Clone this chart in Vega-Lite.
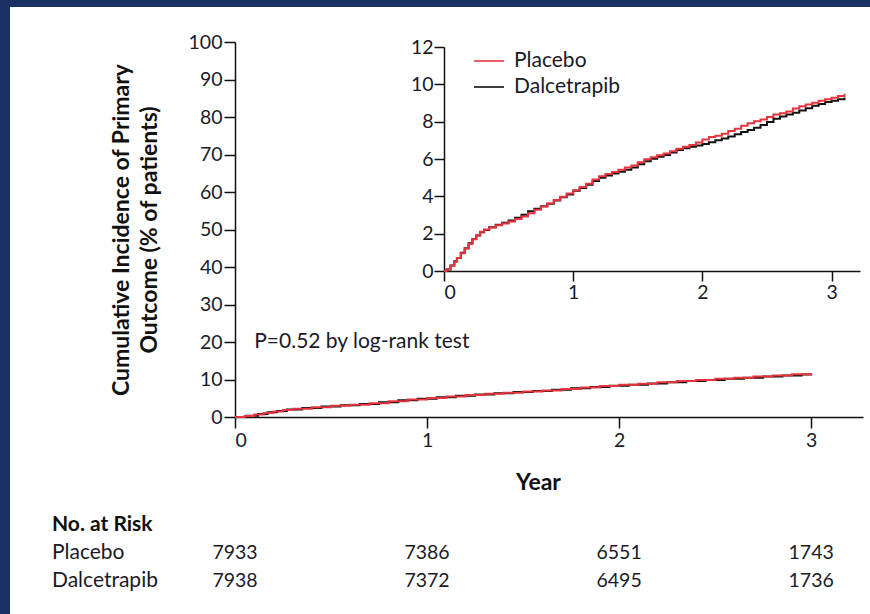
{
  "$schema": "https://vega.github.io/schema/vega-lite/v6.json",
  "width": 860,
  "height": 607,
  "autosize": {"type": "none"},
  "padding": {"left": 10, "top": 7, "right": 0, "bottom": 0},
  "background": "#1c3163",
  "config": {
    "view": {"fill": "white", "stroke": null},
    "font": "Lato",
    "axis": {
      "grid": false,
      "domainColor": "#111111",
      "domainWidth": 1.5,
      "tickColor": "#111111",
      "tickWidth": 1.5,
      "tickSize": 10,
      "labelFont": "Lato",
      "labelFontSize": 19.5,
      "labelColor": "#1a1a28",
      "labelPadding": 2,
      "titleFont": "Lato",
      "titleColor": "#111111"
    },
    "text": {"font": "Lato", "color": "#1a1a28"}
  },
  "datasets": {
    "main": [
      {"group": "Placebo", "year": 0, "pct": 0},
      {"group": "Placebo", "year": 0.05, "pct": 0.3},
      {"group": "Placebo", "year": 0.1, "pct": 0.7},
      {"group": "Placebo", "year": 0.15, "pct": 1.1},
      {"group": "Placebo", "year": 0.2, "pct": 1.5},
      {"group": "Placebo", "year": 0.25, "pct": 1.9},
      {"group": "Placebo", "year": 0.3, "pct": 2.2},
      {"group": "Placebo", "year": 0.4, "pct": 2.6},
      {"group": "Placebo", "year": 0.5, "pct": 3.0},
      {"group": "Placebo", "year": 0.6, "pct": 3.3},
      {"group": "Placebo", "year": 0.7, "pct": 3.7},
      {"group": "Placebo", "year": 0.8, "pct": 4.2},
      {"group": "Placebo", "year": 0.9, "pct": 4.7},
      {"group": "Placebo", "year": 1.0, "pct": 5.1},
      {"group": "Placebo", "year": 1.1, "pct": 5.5},
      {"group": "Placebo", "year": 1.2, "pct": 5.9},
      {"group": "Placebo", "year": 1.3, "pct": 6.2},
      {"group": "Placebo", "year": 1.4, "pct": 6.5},
      {"group": "Placebo", "year": 1.5, "pct": 6.8},
      {"group": "Placebo", "year": 1.6, "pct": 7.1},
      {"group": "Placebo", "year": 1.7, "pct": 7.5},
      {"group": "Placebo", "year": 1.8, "pct": 7.9},
      {"group": "Placebo", "year": 1.9, "pct": 8.3},
      {"group": "Placebo", "year": 2.0, "pct": 8.6},
      {"group": "Placebo", "year": 2.1, "pct": 8.9},
      {"group": "Placebo", "year": 2.2, "pct": 9.3},
      {"group": "Placebo", "year": 2.3, "pct": 9.6},
      {"group": "Placebo", "year": 2.4, "pct": 9.9},
      {"group": "Placebo", "year": 2.5, "pct": 10.2},
      {"group": "Placebo", "year": 2.6, "pct": 10.5},
      {"group": "Placebo", "year": 2.7, "pct": 10.8},
      {"group": "Placebo", "year": 2.8, "pct": 11.1},
      {"group": "Placebo", "year": 2.9, "pct": 11.4},
      {"group": "Placebo", "year": 3.0, "pct": 11.7},
      {"group": "Dalcetrapib", "year": 0, "pct": 0},
      {"group": "Dalcetrapib", "year": 0.06, "pct": 0.35},
      {"group": "Dalcetrapib", "year": 0.12, "pct": 0.8},
      {"group": "Dalcetrapib", "year": 0.17, "pct": 1.25},
      {"group": "Dalcetrapib", "year": 0.22, "pct": 1.6},
      {"group": "Dalcetrapib", "year": 0.27, "pct": 2.0},
      {"group": "Dalcetrapib", "year": 0.35, "pct": 2.4},
      {"group": "Dalcetrapib", "year": 0.45, "pct": 2.8},
      {"group": "Dalcetrapib", "year": 0.55, "pct": 3.15},
      {"group": "Dalcetrapib", "year": 0.65, "pct": 3.5},
      {"group": "Dalcetrapib", "year": 0.75, "pct": 3.95},
      {"group": "Dalcetrapib", "year": 0.85, "pct": 4.45},
      {"group": "Dalcetrapib", "year": 0.95, "pct": 4.9},
      {"group": "Dalcetrapib", "year": 1.05, "pct": 5.3},
      {"group": "Dalcetrapib", "year": 1.15, "pct": 5.7},
      {"group": "Dalcetrapib", "year": 1.25, "pct": 6.0},
      {"group": "Dalcetrapib", "year": 1.35, "pct": 6.35},
      {"group": "Dalcetrapib", "year": 1.45, "pct": 6.65},
      {"group": "Dalcetrapib", "year": 1.55, "pct": 6.95},
      {"group": "Dalcetrapib", "year": 1.65, "pct": 7.3},
      {"group": "Dalcetrapib", "year": 1.75, "pct": 7.65},
      {"group": "Dalcetrapib", "year": 1.85, "pct": 8.0},
      {"group": "Dalcetrapib", "year": 1.95, "pct": 8.35},
      {"group": "Dalcetrapib", "year": 2.05, "pct": 8.6},
      {"group": "Dalcetrapib", "year": 2.15, "pct": 8.95},
      {"group": "Dalcetrapib", "year": 2.25, "pct": 9.3},
      {"group": "Dalcetrapib", "year": 2.35, "pct": 9.6},
      {"group": "Dalcetrapib", "year": 2.45, "pct": 9.9},
      {"group": "Dalcetrapib", "year": 2.55, "pct": 10.2},
      {"group": "Dalcetrapib", "year": 2.65, "pct": 10.5},
      {"group": "Dalcetrapib", "year": 2.75, "pct": 10.8},
      {"group": "Dalcetrapib", "year": 2.85, "pct": 11.1},
      {"group": "Dalcetrapib", "year": 2.95, "pct": 11.35},
      {"group": "Dalcetrapib", "year": 3.0, "pct": 11.5}
    ],
    "inset": [
      {"group": "Placebo", "year": 0, "pct": 0},
      {"group": "Placebo", "year": 0.02, "pct": 0.1},
      {"group": "Placebo", "year": 0.05, "pct": 0.3},
      {"group": "Placebo", "year": 0.08, "pct": 0.5},
      {"group": "Placebo", "year": 0.1, "pct": 0.7},
      {"group": "Placebo", "year": 0.13, "pct": 0.95},
      {"group": "Placebo", "year": 0.16, "pct": 1.2},
      {"group": "Placebo", "year": 0.19, "pct": 1.45},
      {"group": "Placebo", "year": 0.22, "pct": 1.7},
      {"group": "Placebo", "year": 0.25, "pct": 1.9},
      {"group": "Placebo", "year": 0.28, "pct": 2.1},
      {"group": "Placebo", "year": 0.31, "pct": 2.22},
      {"group": "Placebo", "year": 0.35, "pct": 2.33},
      {"group": "Placebo", "year": 0.4, "pct": 2.45},
      {"group": "Placebo", "year": 0.45, "pct": 2.55},
      {"group": "Placebo", "year": 0.5, "pct": 2.65},
      {"group": "Placebo", "year": 0.55, "pct": 2.78},
      {"group": "Placebo", "year": 0.6, "pct": 2.92},
      {"group": "Placebo", "year": 0.65, "pct": 3.1},
      {"group": "Placebo", "year": 0.7, "pct": 3.28},
      {"group": "Placebo", "year": 0.75, "pct": 3.45},
      {"group": "Placebo", "year": 0.8, "pct": 3.62},
      {"group": "Placebo", "year": 0.85, "pct": 3.8},
      {"group": "Placebo", "year": 0.9, "pct": 3.98},
      {"group": "Placebo", "year": 0.95, "pct": 4.15},
      {"group": "Placebo", "year": 1.0, "pct": 4.33},
      {"group": "Placebo", "year": 1.05, "pct": 4.5},
      {"group": "Placebo", "year": 1.1, "pct": 4.68},
      {"group": "Placebo", "year": 1.15, "pct": 4.9},
      {"group": "Placebo", "year": 1.2, "pct": 5.08},
      {"group": "Placebo", "year": 1.25, "pct": 5.2},
      {"group": "Placebo", "year": 1.3, "pct": 5.3},
      {"group": "Placebo", "year": 1.35, "pct": 5.42},
      {"group": "Placebo", "year": 1.4, "pct": 5.55},
      {"group": "Placebo", "year": 1.45, "pct": 5.65},
      {"group": "Placebo", "year": 1.5, "pct": 5.82},
      {"group": "Placebo", "year": 1.55, "pct": 5.98},
      {"group": "Placebo", "year": 1.6, "pct": 6.1},
      {"group": "Placebo", "year": 1.65, "pct": 6.2},
      {"group": "Placebo", "year": 1.7, "pct": 6.3},
      {"group": "Placebo", "year": 1.75, "pct": 6.42},
      {"group": "Placebo", "year": 1.8, "pct": 6.55},
      {"group": "Placebo", "year": 1.85, "pct": 6.65},
      {"group": "Placebo", "year": 1.9, "pct": 6.75},
      {"group": "Placebo", "year": 1.95, "pct": 6.88},
      {"group": "Placebo", "year": 2.0, "pct": 7.05},
      {"group": "Placebo", "year": 2.05, "pct": 7.18},
      {"group": "Placebo", "year": 2.1, "pct": 7.25},
      {"group": "Placebo", "year": 2.15, "pct": 7.35},
      {"group": "Placebo", "year": 2.2, "pct": 7.5},
      {"group": "Placebo", "year": 2.25, "pct": 7.62},
      {"group": "Placebo", "year": 2.3, "pct": 7.78},
      {"group": "Placebo", "year": 2.35, "pct": 7.92},
      {"group": "Placebo", "year": 2.4, "pct": 8.02},
      {"group": "Placebo", "year": 2.45, "pct": 8.12},
      {"group": "Placebo", "year": 2.5, "pct": 8.25},
      {"group": "Placebo", "year": 2.55, "pct": 8.38},
      {"group": "Placebo", "year": 2.6, "pct": 8.45},
      {"group": "Placebo", "year": 2.65, "pct": 8.55},
      {"group": "Placebo", "year": 2.7, "pct": 8.7},
      {"group": "Placebo", "year": 2.75, "pct": 8.82},
      {"group": "Placebo", "year": 2.8, "pct": 8.92},
      {"group": "Placebo", "year": 2.85, "pct": 9.02},
      {"group": "Placebo", "year": 2.9, "pct": 9.12},
      {"group": "Placebo", "year": 2.95, "pct": 9.2},
      {"group": "Placebo", "year": 3.0, "pct": 9.28},
      {"group": "Placebo", "year": 3.05, "pct": 9.38},
      {"group": "Placebo", "year": 3.1, "pct": 9.5},
      {"group": "Dalcetrapib", "year": 0, "pct": 0},
      {"group": "Dalcetrapib", "year": 0.02, "pct": 0.08},
      {"group": "Dalcetrapib", "year": 0.05, "pct": 0.3},
      {"group": "Dalcetrapib", "year": 0.08, "pct": 0.52},
      {"group": "Dalcetrapib", "year": 0.1, "pct": 0.7},
      {"group": "Dalcetrapib", "year": 0.13, "pct": 0.98},
      {"group": "Dalcetrapib", "year": 0.16, "pct": 1.22},
      {"group": "Dalcetrapib", "year": 0.19, "pct": 1.48},
      {"group": "Dalcetrapib", "year": 0.22, "pct": 1.72},
      {"group": "Dalcetrapib", "year": 0.25, "pct": 1.9},
      {"group": "Dalcetrapib", "year": 0.28, "pct": 2.08},
      {"group": "Dalcetrapib", "year": 0.31, "pct": 2.2},
      {"group": "Dalcetrapib", "year": 0.35, "pct": 2.35},
      {"group": "Dalcetrapib", "year": 0.4, "pct": 2.48},
      {"group": "Dalcetrapib", "year": 0.45, "pct": 2.58},
      {"group": "Dalcetrapib", "year": 0.5, "pct": 2.7},
      {"group": "Dalcetrapib", "year": 0.55, "pct": 2.85},
      {"group": "Dalcetrapib", "year": 0.6, "pct": 3.02},
      {"group": "Dalcetrapib", "year": 0.65, "pct": 3.2},
      {"group": "Dalcetrapib", "year": 0.7, "pct": 3.33},
      {"group": "Dalcetrapib", "year": 0.75, "pct": 3.47},
      {"group": "Dalcetrapib", "year": 0.8, "pct": 3.6},
      {"group": "Dalcetrapib", "year": 0.85, "pct": 3.78},
      {"group": "Dalcetrapib", "year": 0.9, "pct": 3.95},
      {"group": "Dalcetrapib", "year": 0.95, "pct": 4.1},
      {"group": "Dalcetrapib", "year": 1.0, "pct": 4.3},
      {"group": "Dalcetrapib", "year": 1.05, "pct": 4.45},
      {"group": "Dalcetrapib", "year": 1.1, "pct": 4.62},
      {"group": "Dalcetrapib", "year": 1.15, "pct": 4.82},
      {"group": "Dalcetrapib", "year": 1.2, "pct": 5.0},
      {"group": "Dalcetrapib", "year": 1.25, "pct": 5.12},
      {"group": "Dalcetrapib", "year": 1.3, "pct": 5.22},
      {"group": "Dalcetrapib", "year": 1.35, "pct": 5.32},
      {"group": "Dalcetrapib", "year": 1.4, "pct": 5.42},
      {"group": "Dalcetrapib", "year": 1.45, "pct": 5.55},
      {"group": "Dalcetrapib", "year": 1.5, "pct": 5.72},
      {"group": "Dalcetrapib", "year": 1.55, "pct": 5.88},
      {"group": "Dalcetrapib", "year": 1.6, "pct": 6.02},
      {"group": "Dalcetrapib", "year": 1.65, "pct": 6.12},
      {"group": "Dalcetrapib", "year": 1.7, "pct": 6.22},
      {"group": "Dalcetrapib", "year": 1.75, "pct": 6.35},
      {"group": "Dalcetrapib", "year": 1.8, "pct": 6.48},
      {"group": "Dalcetrapib", "year": 1.85, "pct": 6.58},
      {"group": "Dalcetrapib", "year": 1.9, "pct": 6.65},
      {"group": "Dalcetrapib", "year": 1.95, "pct": 6.72},
      {"group": "Dalcetrapib", "year": 2.0, "pct": 6.8},
      {"group": "Dalcetrapib", "year": 2.05, "pct": 6.9},
      {"group": "Dalcetrapib", "year": 2.1, "pct": 7.0},
      {"group": "Dalcetrapib", "year": 2.15, "pct": 7.1},
      {"group": "Dalcetrapib", "year": 2.2, "pct": 7.2},
      {"group": "Dalcetrapib", "year": 2.25, "pct": 7.32},
      {"group": "Dalcetrapib", "year": 2.3, "pct": 7.45},
      {"group": "Dalcetrapib", "year": 2.35, "pct": 7.55},
      {"group": "Dalcetrapib", "year": 2.4, "pct": 7.68},
      {"group": "Dalcetrapib", "year": 2.45, "pct": 7.82},
      {"group": "Dalcetrapib", "year": 2.5, "pct": 7.98},
      {"group": "Dalcetrapib", "year": 2.55, "pct": 8.15},
      {"group": "Dalcetrapib", "year": 2.6, "pct": 8.28},
      {"group": "Dalcetrapib", "year": 2.65, "pct": 8.38},
      {"group": "Dalcetrapib", "year": 2.7, "pct": 8.48},
      {"group": "Dalcetrapib", "year": 2.75, "pct": 8.6},
      {"group": "Dalcetrapib", "year": 2.8, "pct": 8.72},
      {"group": "Dalcetrapib", "year": 2.85, "pct": 8.85},
      {"group": "Dalcetrapib", "year": 2.9, "pct": 8.95},
      {"group": "Dalcetrapib", "year": 2.95, "pct": 9.05},
      {"group": "Dalcetrapib", "year": 3.0, "pct": 9.12},
      {"group": "Dalcetrapib", "year": 3.05, "pct": 9.2},
      {"group": "Dalcetrapib", "year": 3.1, "pct": 9.3}
    ],
    "risk": [
      {"row": "Placebo", "year": 0, "n": "7933"},
      {"row": "Placebo", "year": 1, "n": "7386"},
      {"row": "Placebo", "year": 2, "n": "6551"},
      {"row": "Placebo", "year": 3, "n": "1743"},
      {"row": "Dalcetrapib", "year": 0, "n": "7938"},
      {"row": "Dalcetrapib", "year": 1, "n": "7372"},
      {"row": "Dalcetrapib", "year": 2, "n": "6495"},
      {"row": "Dalcetrapib", "year": 3, "n": "1736"}
    ],
    "rows": [
      {"row": "No. at Risk"},
      {"row": "Placebo"},
      {"row": "Dalcetrapib"}
    ],
    "note": [
      {"label": "P=0.52 by log-rank test"}
    ]
  },
  "resolve": {"scale": {"x": "independent", "y": "independent"}},
  "layer": [
    {
      "data": {"name": "main"},
      "encoding": {
        "x": {
          "field": "year", "type": "quantitative",
          "scale": {"domain": [0, 3.27], "range": [225, 853], "nice": false, "zero": false},
          "axis": {
            "orient": "bottom", "offset": -197, "values": [0, 1, 2, 3],
            "tickSize": 11, "labelPadding": 3,
            "title": "Year", "titleFontSize": 23, "titleFontWeight": "bold",
            "titleX": 528, "titlePadding": 22
          }
        },
        "y": {
          "field": "pct", "type": "quantitative",
          "scale": {"domain": [0, 100], "range": [410, 35], "nice": false, "zero": false},
          "axis": {
            "orient": "left", "offset": -225, "tickSize": 11,
            "values": [0, 10, 20, 30, 40, 50, 60, 70, 80, 90, 100],
            "title": ["Cumulative Incidence of Primary", "Outcome (% of patients)"],
            "titleFontSize": 23, "titleFontWeight": "bold", "titleLineHeight": 28,
            "titlePadding": 27
          }
        },
        "color": {
          "field": "group", "type": "nominal",
          "scale": {"domain": ["Placebo", "Dalcetrapib"], "range": ["#e8343f", "#111111"]},
          "legend": {
            "orient": "none", "legendX": 463, "legendY": 38,
            "title": null, "symbolType": "stroke", "symbolSize": 900,
            "symbolStrokeWidth": 1.6, "labelFontSize": 21, "labelFont": "Lato",
            "labelColor": "#1a1a28", "labelOffset": 9, "rowPadding": -6
          }
        }
      },
      "layer": [
        {
          "transform": [{"filter": "datum.group === 'Dalcetrapib'"}],
          "mark": {"type": "line", "interpolate": "step-after", "strokeWidth": 2}
        },
        {
          "transform": [{"filter": "datum.group === 'Placebo'"}],
          "mark": {"type": "line", "interpolate": "step-after", "strokeWidth": 2}
        }
      ]
    },
    {
      "data": {"name": "note"},
      "mark": {"type": "text", "align": "left", "baseline": "middle", "fontSize": 21},
      "encoding": {
        "x": {"datum": 0.1, "type": "quantitative",
              "scale": {"domain": [0, 3.27], "range": [225, 853], "nice": false, "zero": false},
              "axis": null},
        "y": {"datum": 20, "type": "quantitative",
              "scale": {"domain": [0, 100], "range": [410, 35], "nice": false, "zero": false},
              "axis": null},
        "text": {"field": "label"},
        "color": {"value": "#1a1a28"}
      }
    },
    {
      "data": {"name": "inset"},
      "encoding": {
        "x": {
          "field": "year", "type": "quantitative",
          "scale": {"domain": [0, 3.22], "range": [434, 850], "nice": false, "zero": false},
          "axis": {
            "orient": "bottom", "offset": -343, "values": [0, 1, 2, 3],
            "title": null, "labelPadding": 2
          }
        },
        "y": {
          "field": "pct", "type": "quantitative",
          "scale": {"domain": [0, 12], "range": [264, 40], "nice": false, "zero": false},
          "axis": {
            "orient": "left", "offset": -434, "values": [0, 2, 4, 6, 8, 10, 12],
            "title": null, "labelPadding": 1
          }
        },
        "color": {"field": "group", "type": "nominal"}
      },
      "layer": [
        {
          "transform": [{"filter": "datum.group === 'Dalcetrapib'"}],
          "mark": {"type": "line", "interpolate": "step-after", "strokeWidth": 2}
        },
        {
          "transform": [{"filter": "datum.group === 'Placebo'"}],
          "mark": {"type": "line", "interpolate": "step-after", "strokeWidth": 2}
        }
      ]
    },
    {
      "encoding": {
        "y": {"field": "row", "type": "nominal",
              "scale": {"type": "point", "domain": ["No. at Risk", "Placebo", "Dalcetrapib"], "range": [518, 574], "padding": 0},
              "axis": null}
      },
      "layer": [
        {
          "data": {"name": "risk"},
          "mark": {"type": "text", "align": "center", "baseline": "middle", "fontSize": 19.5},
          "encoding": {
            "x": {"field": "year", "type": "quantitative",
                  "scale": {"domain": [0, 3.27], "range": [225, 853], "nice": false, "zero": false},
                  "axis": null},
            "text": {"field": "n"},
            "color": {"value": "#1a1a28"}
          }
        },
        {
          "data": {"name": "rows"},
          "transform": [{"filter": "datum.row !== 'No. at Risk'"}],
          "mark": {"type": "text", "align": "left", "baseline": "middle", "fontSize": 21},
          "encoding": {
            "x": {"datum": -0.953},
            "text": {"field": "row"},
            "color": {"value": "#1a1a28"}
          }
        },
        {
          "data": {"name": "rows"},
          "transform": [{"filter": "datum.row === 'No. at Risk'"}],
          "mark": {"type": "text", "align": "left", "baseline": "middle", "fontSize": 21, "fontWeight": "bold"},
          "encoding": {
            "x": {"datum": -0.953},
            "text": {"field": "row"},
            "color": {"value": "#111111"}
          }
        }
      ]
    }
  ]
}
